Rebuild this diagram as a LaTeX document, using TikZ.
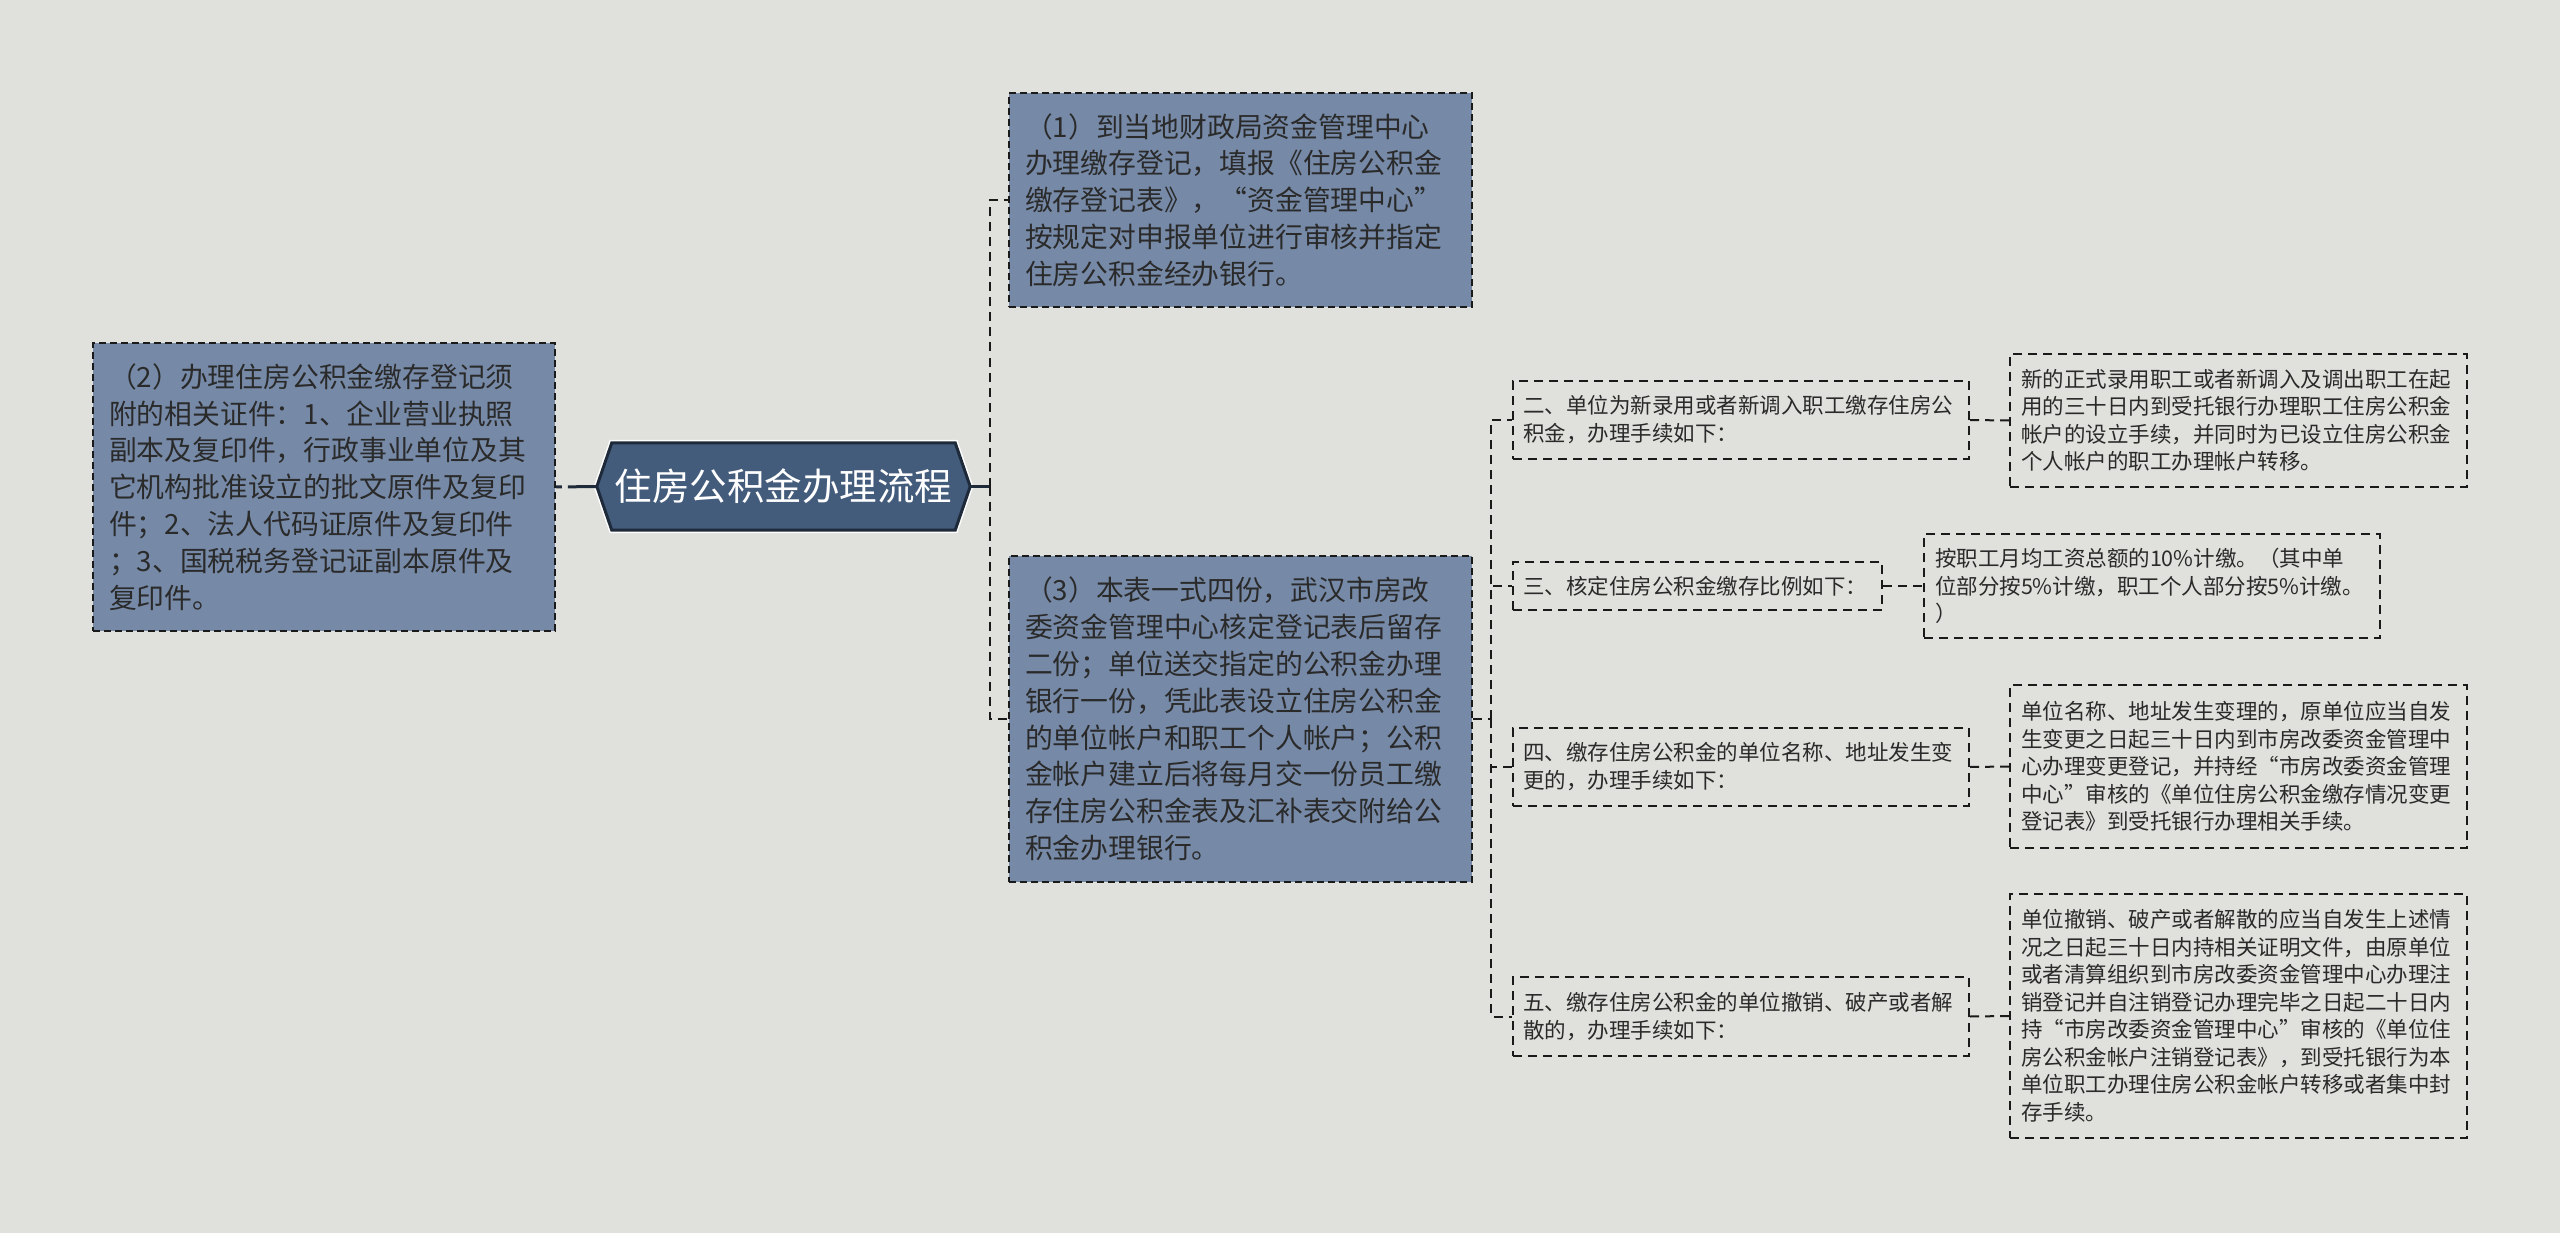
\documentclass[tikz,border=0pt]{standalone}
\usepackage{fontspec}
\setmainfont{Noto Sans CJK SC}
\usetikzlibrary{backgrounds}
\definecolor{bgc}{HTML}{E0E0DC}
\definecolor{boxc}{HTML}{768AA8}
\definecolor{rootc}{HTML}{445C7C}
\definecolor{rootb}{HTML}{1E2A3A}
\definecolor{txt}{HTML}{2A2A2A}
\definecolor{lnc}{HTML}{1A1A1A}
\tikzset{
  mainbox/.style={draw=lnc, line width=1.6pt, dash pattern=on 7pt off 4pt, fill=boxc, text=txt,
    inner xsep=16pt, inner ysep=0pt, align=left, font=\fontsize{27.8}{36.8}\selectfont},
  subbox/.style={draw=lnc, line width=2pt, dash pattern=on 9pt off 6pt, text=txt,
    inner xsep=10pt, inner ysep=0pt, align=left, font=\fontsize{21.5}{28}\selectfont},
  detbox/.style={draw=lnc, line width=2pt, dash pattern=on 9pt off 6pt, text=txt,
    inner xsep=11pt, inner ysep=0pt, align=left, font=\fontsize{21.5}{27.5}\selectfont},
  rootbox/.style={inner sep=0pt, text=white, font=\fontsize{37.5}{42}\selectfont},
  rootline/.style={draw=rootb, line width=3pt},
  conn/.style={draw=lnc, line width=2pt, dash pattern=on 9pt off 6pt},
}
\begin{document}
\begin{tikzpicture}[x=1pt,y=-1pt]
\useasboundingbox (0,0) rectangle (2560,1233);

% root
\node[rootbox, minimum width=373pt, minimum height=87pt] (root) at (783.5,486.5) {住房公积金办理流程};
\begin{pgfonlayer}{background}
\fill[bgc] (0,0) rectangle (2560,1233);
\draw[white, line width=6pt, line join=miter]
  ([xshift=15pt]root.north west) -- ([xshift=-15pt]root.north east) -- (root.east)
  -- ([xshift=-15pt]root.south east) -- ([xshift=15pt]root.south west) -- (root.west) -- cycle;
\filldraw[fill=rootc, draw=rootb, line width=3pt, line join=miter]
  ([xshift=15pt]root.north west) -- ([xshift=-15pt]root.north east) -- (root.east)
  -- ([xshift=-15pt]root.south east) -- ([xshift=15pt]root.south west) -- (root.west) -- cycle;
\end{pgfonlayer}

% main boxes
\node[mainbox, text width=431pt, minimum height=214pt] (b1) at (1240.5,200) {%
（1）到当地财政局资金管理中心\\
办理缴存登记，填报《住房公积金\\
缴存登记表》，“资金管理中心”\\
按规定对申报单位进行审核并指定\\
住房公积金经办银行。};

\node[mainbox, text width=430pt, minimum height=288pt] (b2) at (324,487) {%
（2）办理住房公积金缴存登记须\\
附的相关证件：1、企业营业执照\\
副本及复印件，行政事业单位及其\\
它机构批准设立的批文原件及复印\\
件；2、法人代码证原件及复印件\\
；3、国税税务登记证副本原件及\\
复印件。};

\node[mainbox, text width=431pt, minimum height=326pt] (b3) at (1240.5,719) {%
（3）本表一式四份，武汉市房改\\
委资金管理中心核定登记表后留存\\
二份；单位送交指定的公积金办理\\
银行一份，凭此表设立住房公积金\\
的单位帐户和职工个人帐户；公积\\
金帐户建立后将每月交一份员工缴\\
存住房公积金表及汇补表交附给公\\
积金办理银行。};

% second level
\node[subbox, text width=436pt, minimum height=78pt] (n2) at (1741,420) {%
二、单位为新录用或者新调入职工缴存住房公\\
积金，办理手续如下：};
\node[subbox, text width=349pt, minimum height=48pt] (n3) at (1697.5,586) {%
三、核定住房公积金缴存比例如下：};
\node[subbox, text width=436pt, minimum height=78pt] (n4) at (1741,767) {%
四、缴存住房公积金的单位名称、地址发生变\\
更的，办理手续如下：};
\node[subbox, text width=436pt, minimum height=79pt] (n5) at (1741,1016.5) {%
五、缴存住房公积金的单位撤销、破产或者解\\
散的，办理手续如下：};

% details
\node[detbox, text width=435pt, minimum height=133pt] (d2) at (2238.5,420.5) {%
新的正式录用职工或者新调入及调出职工在起\\
用的三十日内到受托银行办理职工住房公积金\\
帐户的设立手续，并同时为已设立住房公积金\\
个人帐户的职工办理帐户转移。};
\node[detbox, text width=434pt, minimum height=104pt] (d3) at (2152,586) {%
按职工月均工资总额的10\%计缴。（其中单\\
位部分按5\%计缴，职工个人部分按5\%计缴。\\
）};
\node[detbox, text width=435pt, minimum height=163pt] (d4) at (2238.5,766.5) {%
单位名称、地址发生变理的，原单位应当自发\\
生变更之日起三十日内到市房改委资金管理中\\
心办理变更登记，并持经“市房改委资金管理\\
中心”审核的《单位住房公积金缴存情况变更\\
登记表》到受托银行办理相关手续。};
\node[detbox, text width=435pt, minimum height=244pt] (d5) at (2238.5,1016) {%
单位撤销、破产或者解散的应当自发生上述情\\
况之日起三十日内持相关证明文件，由原单位\\
或者清算组织到市房改委资金管理中心办理注\\
销登记并自注销登记办理完毕之日起二十日内\\
持“市房改委资金管理中心”审核的《单位住\\
房公积金帐户注销登记表》，到受托银行为本\\
单位职工办理住房公积金帐户转移或者集中封\\
存手续。};

% connectors
\coordinate (jr) at (990,486.5);
\coordinate (j3) at (1491,719);
\draw[rootline, dash pattern=on 29pt off 6pt on 6pt off 200pt] (root.west) -- (b2.east);
\draw[rootline] (root.east) -- (jr);
\draw[conn] (jr) |- (b1.west);
\draw[conn] (jr) |- (b3.west);
\draw[conn] (b3.east) -- (j3);
\draw[conn] (j3) |- (n2.west);
\draw[conn] (j3) |- (n3.west);
\draw[conn] (j3) |- (n4.west);
\draw[conn] (j3) |- (n5.west);
\draw[conn] (n2.east) -- (d2.west);
\draw[conn] (n3.east) -- (d3.west);
\draw[conn] (n4.east) -- (d4.west);
\draw[conn] (n5.east) -- (d5.west);
\end{tikzpicture}
\end{document}
